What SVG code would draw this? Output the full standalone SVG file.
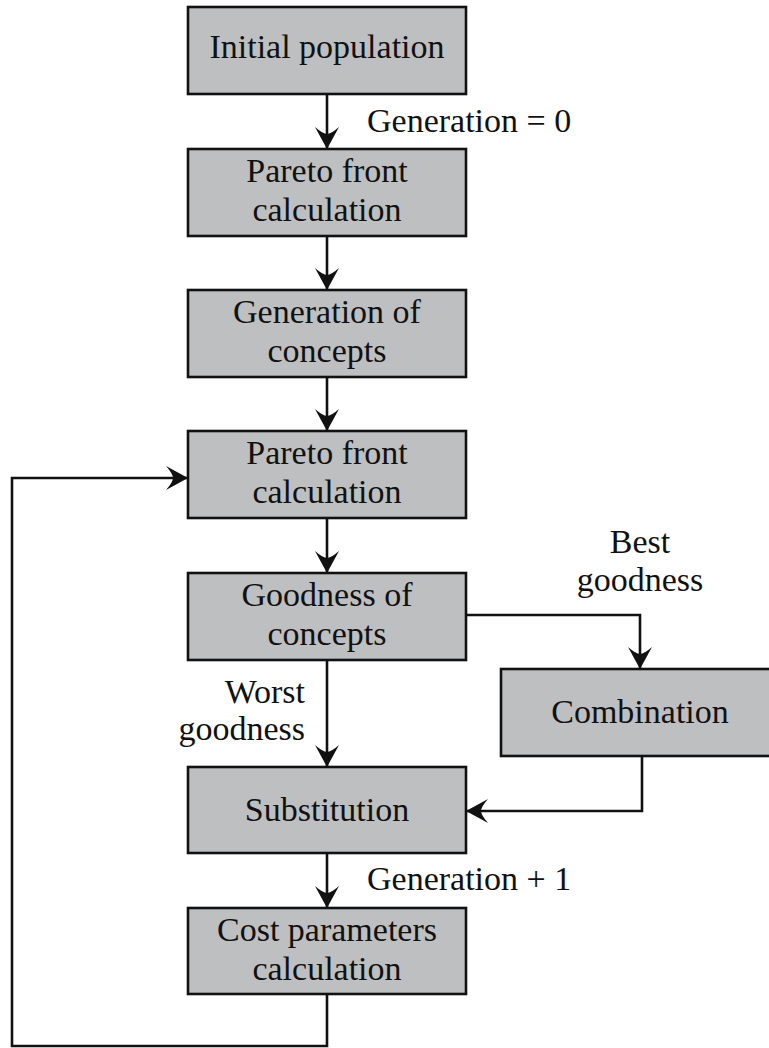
<svg xmlns="http://www.w3.org/2000/svg" width="769" height="1048" viewBox="0 0 769 1048">
<style>
.box{fill:#bebfc1;stroke:#111;stroke-width:2.6}
.t{font-size:34px;fill:#111;text-anchor:middle}
.l{font-size:34px;fill:#111}
.c{fill:none;stroke:#111;stroke-width:2.6}
</style>
<defs>
<marker id="ah" markerUnits="userSpaceOnUse" viewBox="-23 -13 24 26" refX="0" refY="0" markerWidth="24" markerHeight="26" orient="auto">
<path d="M1,0 L-21,-12 Q-14,-4 -14,0 Q-14,4 -21,12 Z" fill="#111"/>
</marker>
</defs>
<rect width="769" height="1048" fill="#fff"/>
<g font-family="'Liberation Serif', 'Times New Roman', Times, 'DejaVu Serif', 'Noto Serif', serif">
<g id="connectors">
<line class="c" x1="327" y1="94" x2="327" y2="148" marker-end="url(#ah)"/>
<line class="c" x1="327" y1="236" x2="327" y2="289" marker-end="url(#ah)"/>
<line class="c" x1="327" y1="377" x2="327" y2="430" marker-end="url(#ah)"/>
<line class="c" x1="327" y1="518" x2="327" y2="572" marker-end="url(#ah)"/>
<line class="c" x1="327" y1="660" x2="327" y2="766" marker-end="url(#ah)"/>
<line class="c" x1="327" y1="853" x2="327" y2="907" marker-end="url(#ah)"/>
<polyline class="c" points="327,994 327,1046 12,1046 12,478 187,478" marker-end="url(#ah)"/>
<polyline class="c" points="466,615 640,615 640,668" marker-end="url(#ah)"/>
<polyline class="c" points="642,755 642,811 467,811" marker-end="url(#ah)"/>
<text class="l" x="367" y="132">Generation = 0</text>
<text class="l" x="367" y="890">Generation + 1</text>
<text class="t" x="640" y="553">Best</text>
<text class="t" x="640" y="591">goodness</text>
<text class="l" x="305" y="703" text-anchor="end">Worst</text>
<text class="l" x="305" y="740" text-anchor="end">goodness</text>
</g>
<g id="n1"><rect class="box" x="188" y="7" width="278" height="87"/><text class="t" x="327" y="58">Initial population</text></g>
<g id="n2"><rect class="box" x="188" y="149" width="278" height="87"/><text class="t" x="327" y="182">Pareto front</text><text class="t" x="327" y="221">calculation</text></g>
<g id="n3"><rect class="box" x="188" y="290" width="278" height="87"/><text class="t" x="327" y="323">Generation of</text><text class="t" x="327" y="362">concepts</text></g>
<g id="n4"><rect class="box" x="188" y="431" width="278" height="87"/><text class="t" x="327" y="464">Pareto front</text><text class="t" x="327" y="503">calculation</text></g>
<g id="n5"><rect class="box" x="188" y="573" width="278" height="87"/><text class="t" x="327" y="606">Goodness of</text><text class="t" x="327" y="645">concepts</text></g>
<g id="n6"><rect class="box" x="501" y="669" width="278" height="87"/><text class="t" x="640" y="723">Combination</text></g>
<g id="n7"><rect class="box" x="188" y="767" width="278" height="86"/><text class="t" x="327" y="821">Substitution</text></g>
<g id="n8"><rect class="box" x="188" y="908" width="278" height="86"/><text class="t" x="327" y="941">Cost parameters</text><text class="t" x="327" y="980">calculation</text></g>
</g>
</svg>
